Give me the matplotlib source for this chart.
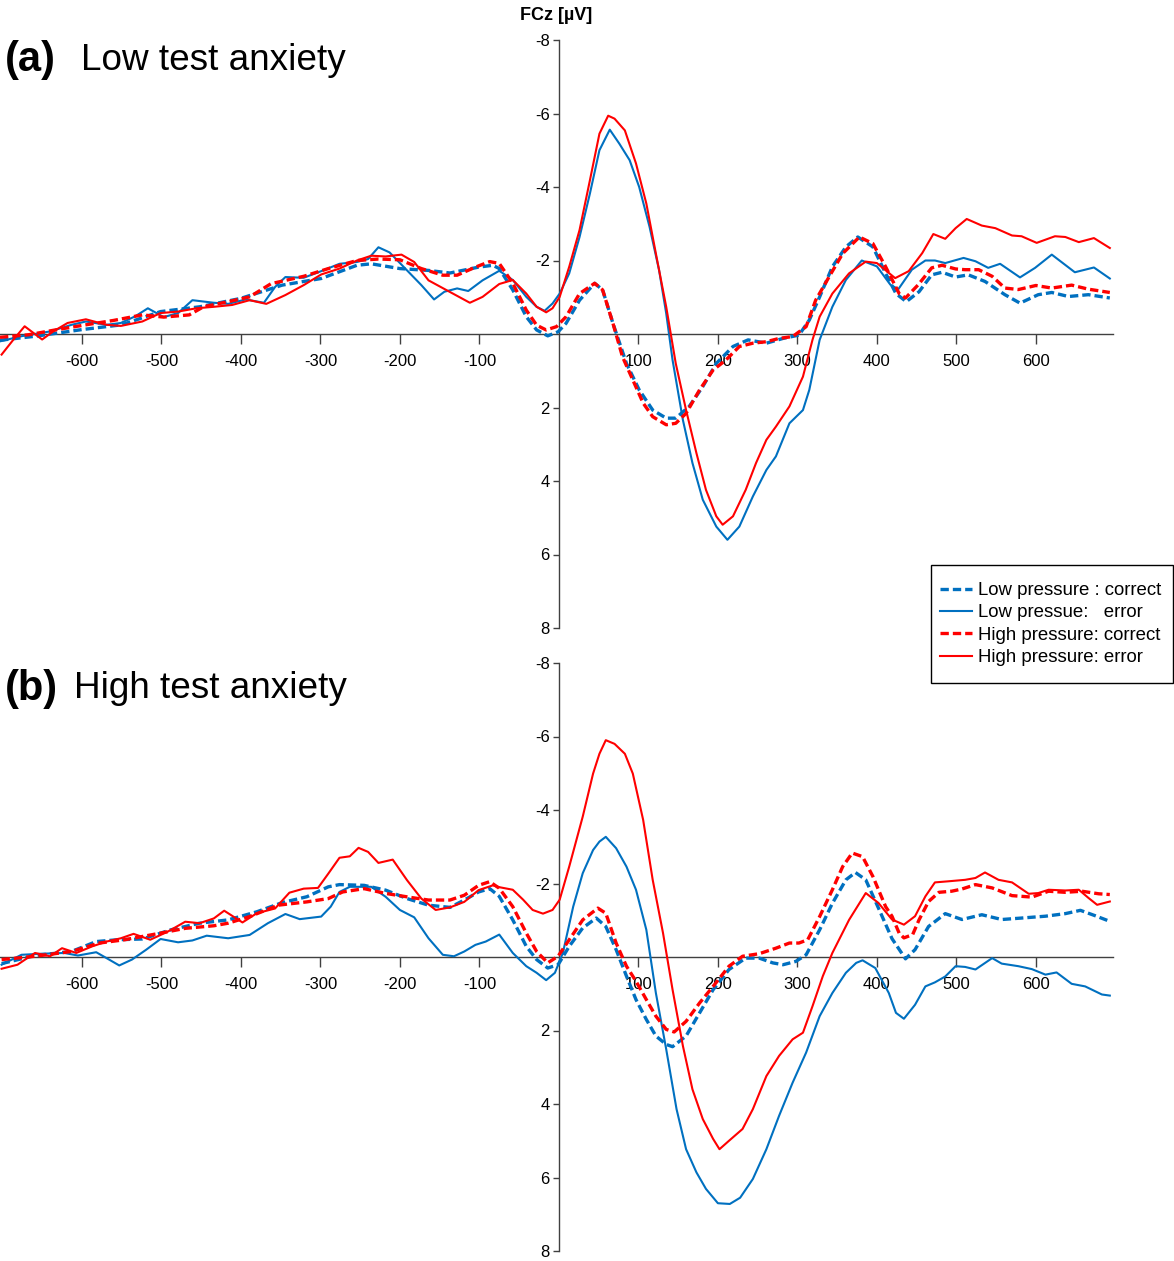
import matplotlib
matplotlib.use("Agg")
import matplotlib.pyplot as plt
from matplotlib.lines import Line2D
from matplotlib.patches import Rectangle

plt.rcParams['font.family'] = ['Liberation Sans', 'DejaVu Sans']
plt.rcParams['axes.unicode_minus'] = False

# ---------------- data (ms, µV) ----------------
# Panel (a) Low test anxiety
a_lpc_t = [-703, -658, -600, -550, -501, -452, -400, -348, -299, -254, -236, -200, -164, -137, -101, -83, -75, -58, -41, -28, -14, -1, 9, 26, 45, 55, 68, 85, 101, 118, 135, 147, 164, 181, 198, 219, 238, 261, 282, 302, 315, 328, 344, 361, 376, 395, 411, 424, 437, 453, 469, 482, 499, 515, 536, 561, 580, 603, 620, 641, 666, 693]
a_lpc_v = [0.17, 0.06, -0.12, -0.25, -0.61, -0.74, -0.97, -1.33, -1.51, -1.87, -1.91, -1.78, -1.73, -1.66, -1.82, -1.87, -1.78, -1.20, -0.47, -0.11, 0.05, -0.06, -0.29, -0.92, -1.38, -1.20, -0.29, 0.80, 1.52, 2.07, 2.29, 2.29, 1.97, 1.43, 0.80, 0.34, 0.16, 0.25, 0.12, 0.03, -0.38, -1.01, -1.83, -2.37, -2.64, -2.37, -1.65, -1.10, -0.88, -1.15, -1.61, -1.68, -1.55, -1.61, -1.43, -1.07, -0.84, -1.07, -1.13, -1.02, -1.07, -0.98]

a_lpe_t = [-703, -676, -640, -613, -595, -569, -551, -533, -517, -497, -479, -461, -434, -416, -394, -371, -357, -344, -321, -299, -276, -254, -240, -227, -213, -195, -173, -157, -144, -128, -114, -96, -75, -58, -41, -28, -18, -8, 1, 13, 26, 39, 51, 64, 76, 89, 101, 114, 126, 135, 143, 156, 168, 181, 198, 212, 227, 244, 261, 273, 290, 307, 315, 328, 344, 361, 381, 400, 417, 427, 444, 461, 473, 486, 509, 524, 540, 555, 580, 599, 620, 649, 673, 693]
a_lpe_v = [0.20, 0.06, -0.07, -0.25, -0.34, -0.25, -0.30, -0.48, -0.70, -0.46, -0.57, -0.92, -0.85, -0.82, -0.94, -0.85, -1.28, -1.55, -1.53, -1.71, -1.91, -1.96, -2.04, -2.36, -2.22, -1.82, -1.33, -0.94, -1.15, -1.24, -1.17, -1.46, -1.72, -1.47, -1.01, -0.74, -0.63, -0.83, -1.10, -1.65, -2.64, -3.82, -5.00, -5.56, -5.18, -4.73, -4.00, -2.92, -1.74, -0.56, 0.71, 2.34, 3.51, 4.51, 5.24, 5.60, 5.24, 4.42, 3.70, 3.33, 2.43, 2.07, 1.52, 0.16, -0.74, -1.47, -2.00, -1.84, -1.34, -1.22, -1.75, -2.00, -2.00, -1.93, -2.07, -1.98, -1.80, -1.91, -1.54, -1.80, -2.16, -1.68, -1.81, -1.51]

a_hpc_t = [-703, -667, -631, -595, -560, -524, -497, -465, -447, -416, -389, -362, -321, -290, -254, -227, -200, -173, -146, -128, -105, -87, -75, -58, -41, -28, -16, -3, 9, 26, 45, 55, 68, 80, 93, 106, 118, 135, 147, 160, 177, 194, 210, 227, 244, 261, 277, 294, 311, 323, 340, 357, 378, 395, 411, 428, 436, 452, 469, 482, 499, 511, 528, 545, 561, 578, 600, 620, 645, 666, 693]
a_hpc_v = [0.09, 0.02, -0.12, -0.25, -0.37, -0.52, -0.46, -0.52, -0.74, -0.88, -1.01, -1.37, -1.57, -1.78, -2.00, -2.04, -2.02, -1.78, -1.60, -1.60, -1.82, -1.97, -1.92, -1.38, -0.65, -0.24, -0.11, -0.20, -0.47, -1.10, -1.38, -1.20, -0.29, 0.62, 1.25, 1.88, 2.25, 2.47, 2.43, 2.16, 1.52, 0.98, 0.71, 0.34, 0.25, 0.21, 0.12, 0.07, -0.20, -0.92, -1.56, -2.19, -2.64, -2.46, -1.83, -1.10, -0.98, -1.34, -1.80, -1.87, -1.77, -1.75, -1.75, -1.57, -1.25, -1.21, -1.32, -1.25, -1.33, -1.22, -1.13]

a_hpe_t = [-701, -686, -672, -661, -650, -636, -618, -595, -569, -551, -524, -501, -479, -456, -434, -411, -389, -368, -344, -321, -299, -276, -254, -236, -218, -198, -182, -164, -141, -112, -96, -75, -58, -41, -28, -16, -8, 1, 13, 26, 39, 51, 62, 70, 83, 97, 110, 122, 135, 147, 160, 173, 185, 198, 206, 219, 235, 248, 261, 273, 290, 307, 319, 328, 344, 365, 386, 400, 423, 440, 457, 471, 486, 499, 513, 532, 549, 570, 582, 601, 624, 637, 654, 673, 693]
a_hpe_v = [0.56, 0.15, -0.21, -0.03, 0.15, -0.07, -0.30, -0.40, -0.25, -0.22, -0.34, -0.57, -0.61, -0.70, -0.74, -0.79, -0.92, -0.82, -1.06, -1.33, -1.62, -1.78, -2.00, -2.13, -2.11, -2.16, -1.96, -1.46, -1.19, -0.85, -1.01, -1.36, -1.47, -1.10, -0.74, -0.59, -0.70, -1.01, -1.83, -2.83, -4.18, -5.45, -5.94, -5.86, -5.54, -4.64, -3.55, -2.19, -0.74, 0.80, 2.07, 3.24, 4.24, 4.96, 5.19, 4.96, 4.24, 3.51, 2.88, 2.52, 1.97, 1.16, 0.16, -0.47, -1.10, -1.65, -1.97, -1.93, -1.52, -1.71, -2.20, -2.72, -2.59, -2.88, -3.13, -2.95, -2.88, -2.68, -2.66, -2.48, -2.66, -2.64, -2.50, -2.61, -2.34]

# Panel (b) High test anxiety
b_lpc_t = [-701, -659, -613, -582, -555, -524, -488, -452, -416, -380, -348, -317, -290, -276, -245, -218, -191, -164, -137, -119, -101, -87, -75, -58, -41, -28, -14, -1, 13, 30, 47, 59, 72, 85, 97, 110, 122, 135, 143, 160, 177, 194, 214, 235, 252, 269, 282, 298, 311, 328, 344, 361, 373, 386, 402, 419, 436, 448, 465, 486, 507, 532, 557, 582, 612, 637, 656, 675, 693]
b_lpc_v = [0.18, -0.04, -0.15, -0.42, -0.47, -0.49, -0.74, -0.92, -1.01, -1.23, -1.48, -1.64, -1.91, -1.97, -1.95, -1.82, -1.59, -1.41, -1.35, -1.55, -1.77, -1.86, -1.65, -1.01, -0.29, 0.07, 0.30, 0.21, -0.29, -0.79, -1.06, -0.83, -0.20, 0.52, 1.16, 1.70, 2.15, 2.38, 2.44, 2.15, 1.52, 0.89, 0.34, 0.03, 0.03, 0.16, 0.21, 0.12, -0.06, -0.74, -1.46, -2.10, -2.30, -2.10, -1.33, -0.50, 0.05, -0.20, -0.83, -1.18, -1.02, -1.15, -1.02, -1.06, -1.11, -1.18, -1.27, -1.12, -0.97]

b_lpe_t = [-701, -676, -650, -622, -605, -582, -569, -553, -537, -519, -501, -479, -461, -443, -416, -389, -366, -344, -326, -299, -287, -276, -263, -236, -218, -200, -182, -164, -146, -132, -119, -105, -92, -75, -58, -41, -28, -16, -5, 5, 18, 30, 43, 51, 59, 72, 85, 97, 110, 122, 135, 148, 160, 173, 185, 200, 215, 228, 244, 261, 277, 294, 311, 328, 344, 361, 374, 382, 398, 415, 424, 434, 448, 461, 473, 486, 499, 511, 524, 545, 557, 578, 595, 612, 626, 645, 662, 683, 693]
b_lpe_v = [0.21, -0.06, -0.09, -0.11, -0.04, -0.13, 0.03, 0.23, 0.07, -0.20, -0.49, -0.40, -0.45, -0.58, -0.51, -0.60, -0.92, -1.17, -1.03, -1.10, -1.37, -1.77, -1.91, -1.91, -1.64, -1.28, -1.08, -0.51, -0.06, -0.02, -0.15, -0.33, -0.42, -0.61, -0.11, 0.25, 0.43, 0.63, 0.43, -0.11, -1.37, -2.28, -2.91, -3.14, -3.27, -2.96, -2.46, -1.83, -0.74, 0.98, 2.51, 4.14, 5.23, 5.86, 6.31, 6.70, 6.72, 6.55, 6.04, 5.23, 4.32, 3.42, 2.60, 1.61, 0.98, 0.43, 0.16, 0.09, 0.30, 0.98, 1.52, 1.68, 1.30, 0.80, 0.69, 0.53, 0.25, 0.27, 0.34, 0.03, 0.18, 0.25, 0.33, 0.48, 0.42, 0.73, 0.80, 1.02, 1.05]

b_hpc_t = [-701, -659, -613, -578, -546, -501, -470, -434, -416, -389, -353, -317, -290, -272, -245, -218, -186, -164, -137, -119, -101, -87, -75, -58, -41, -28, -14, -1, 13, 30, 49, 59, 72, 85, 97, 110, 122, 135, 145, 160, 177, 194, 214, 231, 252, 273, 290, 302, 313, 328, 344, 357, 369, 382, 395, 411, 419, 428, 434, 445, 453, 465, 478, 494, 507, 524, 545, 570, 595, 616, 637, 658, 679, 693]
b_hpc_v = [0.07, -0.02, -0.15, -0.38, -0.47, -0.65, -0.78, -0.85, -0.92, -1.10, -1.41, -1.50, -1.59, -1.77, -1.86, -1.73, -1.62, -1.55, -1.55, -1.68, -1.95, -2.05, -1.87, -1.37, -0.65, -0.15, 0.16, -0.02, -0.47, -1.01, -1.33, -1.19, -0.38, 0.25, 0.66, 1.16, 1.61, 1.97, 2.04, 1.75, 1.25, 0.80, 0.25, -0.02, -0.09, -0.24, -0.38, -0.38, -0.47, -1.10, -1.83, -2.46, -2.83, -2.73, -2.19, -1.37, -1.11, -0.65, -0.52, -0.61, -1.01, -1.51, -1.76, -1.79, -1.85, -1.97, -1.88, -1.67, -1.63, -1.79, -1.76, -1.79, -1.72, -1.70]

b_hpe_t = [-701, -681, -659, -640, -625, -607, -587, -569, -551, -535, -514, -492, -470, -452, -434, -421, -398, -380, -357, -339, -321, -303, -290, -276, -263, -252, -240, -227, -209, -191, -173, -155, -137, -119, -101, -83, -75, -58, -45, -33, -20, -8, 1, 13, 30, 43, 51, 59, 70, 83, 93, 106, 118, 131, 143, 156, 168, 181, 194, 202, 214, 231, 244, 261, 277, 294, 307, 319, 332, 344, 365, 386, 402, 419, 434, 448, 461, 473, 490, 511, 524, 536, 553, 570, 591, 603, 616, 637, 654, 666, 677, 693]
b_hpe_v = [0.32, 0.21, -0.11, -0.02, -0.24, -0.11, -0.29, -0.42, -0.51, -0.63, -0.47, -0.69, -0.96, -0.92, -1.05, -1.26, -0.94, -1.19, -1.32, -1.75, -1.86, -1.88, -2.27, -2.70, -2.74, -2.97, -2.86, -2.56, -2.65, -2.09, -1.59, -1.28, -1.35, -1.50, -1.82, -1.95, -1.90, -1.83, -1.56, -1.28, -1.18, -1.28, -1.56, -2.46, -3.82, -4.99, -5.53, -5.90, -5.80, -5.53, -4.99, -3.73, -2.10, -0.65, 0.89, 2.42, 3.60, 4.41, 4.95, 5.23, 5.00, 4.68, 4.14, 3.24, 2.69, 2.24, 2.06, 1.34, 0.52, -0.11, -1.01, -1.74, -1.47, -1.02, -0.88, -1.11, -1.65, -2.03, -2.06, -2.10, -2.15, -2.30, -2.10, -2.03, -1.72, -1.74, -1.83, -1.81, -1.83, -1.61, -1.42, -1.51]

legend_labels = ["Low pressure : correct", "Low pressue:   error",
                 "High pressure: correct", "High pressure: error"]
x_ticks = [-600, -500, -400, -300, -200, -100, 100, 200, 300, 400, 500, 600]
y_ticks = [-8, -6, -4, -2, 2, 4, 6, 8]
titles = [("(a)", "Low test anxiety"), ("(b)", "High test anxiety")]
y_label = "FCz [µV]"

# ---------------- styling ----------------
BLUE = '#0070C0'
RED = '#FF0000'
W, H = 1174, 1261
fig = plt.figure(figsize=(W / 100, H / 100), dpi=100)

def px_rect(left, top, right, bottom):
    return [left / W, 1 - bottom / H, (right - left) / W, (bottom - top) / H]

panels = [
    (px_rect(0, 40, 1113, 628),
     [(a_lpc_t, a_lpc_v), (a_lpe_t, a_lpe_v), (a_hpc_t, a_hpc_v), (a_hpe_t, a_hpe_v)]),
    (px_rect(0, 663, 1113, 1251),
     [(b_lpc_t, b_lpc_v), (b_lpe_t, b_lpe_v), (b_hpc_t, b_hpc_v), (b_hpe_t, b_hpe_v)]),
]
styles = [
    dict(color=BLUE, lw=2.4, linestyle=(0, (2.5, 1.2))),
    dict(color=BLUE, lw=1.5, linestyle='-'),
    dict(color=RED, lw=2.4, linestyle=(0, (2.5, 1.2))),
    dict(color=RED, lw=1.5, linestyle='-'),
]

SPINE = '#404040'
for rect, series in panels:
    ax = fig.add_axes(rect)
    ax.set_facecolor('none')
    for (t, v), st in zip(series, styles):
        ax.plot(t, v, zorder=3, solid_joinstyle='round', **st)
    ax.set_xlim(-703, 697)
    ax.set_ylim(8, -8)
    for s in ['top', 'right']:
        ax.spines[s].set_visible(False)
    ax.spines['left'].set_position(('data', 0))
    ax.spines['bottom'].set_position(('data', 0))
    for s in ['left', 'bottom']:
        ax.spines[s].set_color(SPINE)
        ax.spines[s].set_linewidth(1.0)
        ax.spines[s].set_zorder(2)
    ax.set_xticks(x_ticks)
    ax.set_xticklabels([str(x) for x in x_ticks])
    ax.set_yticks(y_ticks)
    ax.set_yticklabels([str(y) for y in y_ticks])
    ax.tick_params(axis='x', direction='out', length=7, width=1.0, color=SPINE,
                   pad=7.5, labelsize=12)
    ax.tick_params(axis='y', direction='out', length=4.5, width=1.0, color=SPINE,
                   pad=2, labelsize=12)

# titles
fig.text(5 / W, 1 - 60 / H, titles[0][0], fontsize=30, fontweight='bold', va='center', ha='left')
fig.text(81 / W, 1 - 60 / H, titles[0][1], fontsize=26.6, va='center', ha='left')
fig.text(5 / W, 1 - 689 / H, titles[1][0], fontsize=30, fontweight='bold', va='center', ha='left')
fig.text(74 / W, 1 - 689 / H, titles[1][1], fontsize=26.6, va='center', ha='left')

fig.text(556 / W, 1 - 15 / H, y_label, fontsize=13, fontweight='bold', va='center', ha='center')

# legend frame drawn separately so its box matches exactly
fig.patches.append(Rectangle((931 / W, 1 - 683 / H), 242 / W, 118 / H,
                             transform=fig.transFigure, fill=True, facecolor='white',
                             edgecolor='black', linewidth=1.0, zorder=5))
handles = [Line2D([], [], **st) for st in styles]
leg = fig.legend(handles, legend_labels, loc='upper left',
                 bbox_to_anchor=(940 / W, 1 - 582 / H), fontsize=13.4,
                 frameon=False, handlelength=1.72, handletextpad=0.32,
                 labelspacing=0.29, handleheight=0.7,
                 borderpad=0.0, borderaxespad=0)
leg.set_zorder(6)

fig.savefig('out.png', dpi=100)
